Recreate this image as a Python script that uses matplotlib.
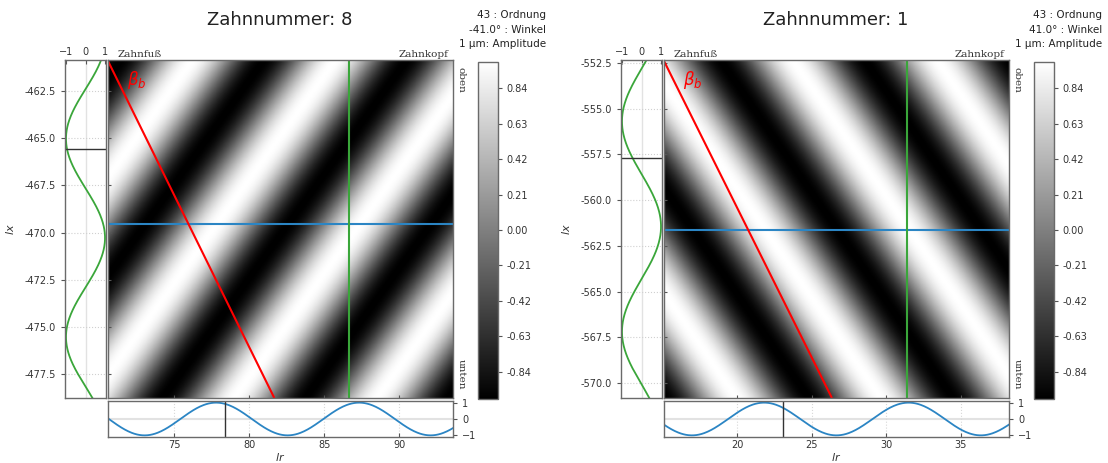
import numpy as np
import matplotlib
matplotlib.use("Agg")
import matplotlib.pyplot as plt

W, H = 1108, 463

# Two tooth panels: tooth number, order, angle, amplitude
zahnnummern = [8, 1]
ordnungen = [43, 43]
winkel = [-41.0, 41.0]
amplituden = [1, 1]

# Axis ranges of the tooth flank (lr along profile, lx along width)
lr_limits = [(70.53, 93.6), (15.04, 38.24)]
lx_limits = [(-478.76, -460.86), (-570.82, -552.34)]

# Ripple geometry: period along lr / lx and position of one crest
period_lr = [9.55, 9.7]
period_lx = [10.5, 11.5]
crest_lr = [87.15, 31.5]
crest_lx = [-469.75, -561.61]

# Section lines
schnitt_lx = [-469.55, -561.61]   # horizontal section (blue)
schnitt_lr = [86.67, 31.36]       # vertical section (green)
marker_lx = [-465.58, -557.72]    # black mark in side profile
marker_lr = [78.4, 23.05]         # black mark in bottom profile
beta_end_lr = [81.67, 26.35]      # end of helix-angle line at lower edge

lr_ticks = [[75, 80, 85, 90], [20, 25, 30, 35]]
lx_ticks = [[-462.5, -465.0, -467.5, -470.0, -472.5, -475.0, -477.5],
            [-552.5, -555.0, -557.5, -560.0, -562.5, -565.0, -567.5, -570.0]]
cbar_ticks = [-0.84, -0.63, -0.42, -0.21, 0.00, 0.21, 0.42, 0.63, 0.84]

GREEN = "#3aa63a"
BLUE = "#2b85c4"
EDGE = "#6a6a6a"
TXT = "#333333"

plt.rcParams.update({
    "font.family": "DejaVu Sans",
    "axes.edgecolor": EDGE,
    "axes.linewidth": 1.0,
    "xtick.color": "#555555",
    "ytick.color": "#555555",
    "xtick.labelcolor": TXT,
    "ytick.labelcolor": TXT,
    "xtick.labelsize": 7,
    "ytick.labelsize": 7,
    "xtick.major.size": 3,
    "ytick.major.size": 3,
})

fig = plt.figure(figsize=(W / 100, H / 100), dpi=100)


def px_axes(x0, y0, x1, y1):
    return fig.add_axes([x0 / W, 1 - y1 / H, (x1 - x0) / W, (y1 - y0) / H])


def ripple(lr, lx, i):
    s = np.sign(winkel[i])
    phase = (lr - crest_lr[i]) / period_lr[i] + s * (lx - crest_lx[i]) / period_lx[i]
    return amplituden[i] * np.cos(2 * np.pi * phase)


for i in range(2):
    dx = 556 * i
    lr0, lr1 = lr_limits[i]
    lx0, lx1 = lx_limits[i]

    ax_side = px_axes(65 + dx, 60, 106 + dx, 398)
    ax_img = px_axes(107.5 + dx, 60, 453 + dx, 398)
    ax_bot = px_axes(107.5 + dx, 401, 453 + dx, 437)
    cax = px_axes(477.5 + dx, 61.5, 497.5 + dx, 398.5)

    # ripple surface
    lr = np.linspace(lr0, lr1, 400)
    lx = np.linspace(lx0, lx1, 400)
    LR, LX = np.meshgrid(lr, lx)
    Z = ripple(LR, LX, i)
    im = ax_img.imshow(Z, extent=(lr0, lr1, lx0, lx1), origin="lower",
                       aspect="auto", cmap="gray", vmin=-1, vmax=1,
                       interpolation="bilinear")
    ax_img.set_xlim(lr0, lr1)
    ax_img.set_ylim(lx0, lx1)
    ax_img.axhline(schnitt_lx[i], color=BLUE, lw=1.5)
    ax_img.axvline(schnitt_lr[i], color=GREEN, lw=1.5)
    ax_img.plot([lr0, beta_end_lr[i]], [lx1, lx0], color="red", lw=1.5,
                solid_capstyle="butt")
    ax_img.set_xticks(lr_ticks[i])
    ax_img.set_yticks(lx_ticks[i])
    ax_img.tick_params(direction="in", labelleft=False, labelbottom=False,
                       length=2.5)
    ax_img.text(0.055, 0.94, r"$\beta_b$", color="red", fontsize=12,
                transform=ax_img.transAxes, ha="left", va="center")

    # labels around the surface
    fig.text((118 + dx) / W, 1 - 57 / H, "Zahnfuß", family="DejaVu Serif",
             fontsize=7.5, color=TXT, ha="left", va="baseline")
    fig.text((448 + dx) / W, 1 - 57 / H, "Zahnkopf", family="DejaVu Serif",
             fontsize=7.5, color=TXT, ha="right", va="baseline")
    fig.text((461 + dx) / W, 1 - 80 / H, "oben", family="DejaVu Serif",
             fontsize=7.5, color=TXT, rotation=270, ha="center", va="center")
    fig.text((461 + dx) / W, 1 - 374 / H, "unten", family="DejaVu Serif",
             fontsize=7.5, color=TXT, rotation=270, ha="center", va="center")

    # side profile along the green section
    ax_side.plot(ripple(schnitt_lr[i], lx, i), lx, color=GREEN, lw=1.3)
    ax_side.axhline(marker_lx[i], color="#333333", lw=1.0)
    ax_side.axvline(0, color="#e2e2e2", lw=1.0, zorder=0)
    ax_side.set_xlim(-1.05, 1.05)
    ax_side.set_ylim(lx0, lx1)
    ax_side.set_xticks([-1, 0, 1])
    ax_side.set_yticks(lx_ticks[i])
    ax_side.yaxis.set_major_formatter(matplotlib.ticker.FormatStrFormatter("%.1f"))
    ax_side.xaxis.tick_top()
    ax_side.tick_params(axis="x", direction="in", pad=2)
    ax_side.grid(axis="y", color="#d0d0d0", lw=0.8, ls=":")
    ax_side.set_ylabel(r"$lx$", fontsize=8, color=TXT, labelpad=6)

    # bottom profile along the blue section
    ax_bot.plot(lr, ripple(lr, schnitt_lx[i], i), color=BLUE, lw=1.3)
    ax_bot.axvline(marker_lr[i], color="#333333", lw=1.0)
    ax_bot.axhline(0, color="#e2e2e2", lw=1.5, zorder=0)
    ax_bot.set_xlim(lr0, lr1)
    ax_bot.set_ylim(-1.1, 1.1)
    ax_bot.set_xticks(lr_ticks[i])
    ax_bot.set_yticks([-1, 0, 1])
    ax_bot.yaxis.tick_right()
    ax_bot.grid(axis="x", color="#d8d8d8", lw=0.8, ls=":")
    ax_bot.tick_params(axis="x", direction="in", pad=2.5)
    fig.text((280 + dx) / W, 1 - 457 / H, r"$lr$", fontsize=8, color=TXT,
             ha="center", va="center")

    # colour bar
    cb = fig.colorbar(im, cax=cax, ticks=cbar_ticks, format="%.2f")
    cb.outline.set_edgecolor(EDGE)
    cax.tick_params(labelsize=7, length=3)

    # title and parameter block
    fig.text((280 + dx) / W, 1 - 20 / H, f"Zahnnummer: {zahnnummern[i]}",
             fontsize=13, color="#222222", ha="center", va="center")
    info = [f"{ordnungen[i]} : Ordnung",
            f"{winkel[i]:.1f}° : Winkel",
            f"{amplituden[i]} µm: Amplitude"]
    for k, line in enumerate(info):
        fig.text((546 + dx) / W, 1 - (15 + 14.6 * k) / H, line,
                 fontsize=7.5, color="#222222", ha="right", va="center")

fig.savefig("out.png", dpi=100)
